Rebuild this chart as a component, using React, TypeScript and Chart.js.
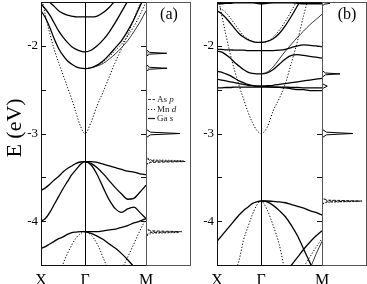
import React, { useEffect, useRef } from 'react';
import { Chart, registerables } from 'chart.js';
Chart.register(...registerables);

const SERIF = "'Liberation Serif', 'Times New Roman', serif";
const N = null;

// k-path positions: X = 0, Γ = 1, M = 2.386
const K = [0, 0.1, 0.2, 0.3, 0.4, 0.5, 0.6, 0.7, 0.8, 0.9, 1, 1.139, 1.277, 1.416, 1.554, 1.693, 1.832, 1.97, 2.109, 2.247, 2.386];
const K_TICKS = [0, 1, 2.386];
const K_LABELS = ['X', 'Γ', 'M'];
const E_TICKS = [-4.5, -4, -3.5, -3, -2.5, -2, -1.5];
const E_MIN = -4.5;
const E_MAX = -1.5;

// ---- panel (a) bands ----
const A_V = [-1.42, -1.65, -1.86, -2.04, -2.19, -2.33, -2.47, -2.61, -2.77, -2.92, -3.0, -2.87, -2.68, -2.52, -2.35, -2.18, -2.03, -1.87, -1.7, -1.52, -1.35];
const A_U1 = [-1.35, -1.42, -1.5, -1.55, -1.6, -1.63, -1.65, -1.66, -1.67, -1.67, -1.67, -1.67, -1.66, -1.62, -1.56, -1.48, -1.4, -1.3, -1.2, -1.1, -1.0];
const A_U2 = [-1.52, -1.58, -1.65, -1.74, -1.83, -1.9, -1.96, -2.01, -2.04, -2.06, -2.07, -2.05, -2.0, -1.93, -1.84, -1.73, -1.61, -1.49, -1.37, -1.25, -1.13];
const A_U3A = [-1.6, -1.68, -1.79, -1.92, -2.03, -2.11, -2.17, -2.21, -2.24, -2.255, -2.26, -2.25, -2.22, -2.17, -2.1, -2.02, -1.94, -1.83, -1.7, -1.55, -1.4];
const A_U3B = [N, N, N, N, N, N, N, N, N, N, -2.26, -2.25, -2.22, -2.18, -2.12, -2.05, -1.98, -1.89, -1.78, -1.65, -1.5];
const A_U3C = [N, N, N, N, N, N, N, N, N, N, -2.26, -2.25, -2.23, -2.2, -2.15, -2.09, -2.02, -1.94, -1.84, -1.73, -1.6];
const A_P1 = [-3.65, -3.62, -3.58, -3.53, -3.49, -3.44, -3.4, -3.37, -3.34, -3.325, -3.32, -3.32, -3.33, -3.35, -3.37, -3.39, -3.41, -3.43, -3.44, -3.46, -3.47];
const A_P2 = [-4.0, -3.97, -3.9, -3.81, -3.72, -3.63, -3.55, -3.47, -3.41, -3.35, -3.32, -3.36, -3.47, -3.62, -3.76, -3.86, -3.9, -3.86, -3.84, -3.9, -3.97];
const A_P3 = [N, N, N, N, N, N, N, N, N, N, -3.32, -3.34, -3.39, -3.46, -3.54, -3.62, -3.69, -3.75, -3.74, -3.67, -3.59];
const A_S1 = [-4.31, -4.29, -4.26, -4.23, -4.2, -4.18, -4.15, -4.13, -4.125, -4.12, -4.12, -4.12, -4.12, -4.11, -4.1, -4.09, -4.07, -4.05, -4.02, -4.0, -3.97];
const A_S2 = [N, N, N, N, N, N, N, N, N, N, -4.12, -4.14, -4.17, -4.21, -4.26, -4.31, -4.37, -4.44, -4.52, -4.6, -4.68];
const A_S3 = [N, N, N, -4.85, -4.65, -4.49, -4.37, -4.27, -4.19, -4.14, -4.12, -4.16, -4.26, -4.42, -4.6, -4.8, N, N, N, N, N];
const A_S4 = [N, N, N, N, N, N, N, N, N, N, N, N, N, N, N, -4.69, -4.55, -4.41, -4.26, -4.11, -3.97];

// ---- panel (b) bands ----
const B_V = [-1.38, -1.63, -1.87, -2.09, -2.28, -2.45, -2.6, -2.75, -2.87, -2.96, -3.0, -2.93, -2.74, -2.6, -2.43, -2.19, -1.94, -1.65, -1.4, -1.15, -0.9];
const B_TOP = [-1.52, -1.52, -1.515, -1.515, -1.51, -1.51, -1.51, -1.51, -1.51, -1.515, -1.52, -1.515, -1.51, -1.51, -1.51, -1.51, -1.515, -1.52, -1.52, -1.52, -1.52];
const B_U1 = [-1.6, -1.63, -1.68, -1.74, -1.8, -1.86, -1.9, -1.93, -1.95, -1.96, -1.96, -1.95, -1.92, -1.86, -1.77, -1.66, -1.54, -1.42, -1.3, -1.18, -1.06];
const B_U1B = [-1.56, -1.58, -1.62, -1.68, -1.75, -1.82, -1.88, -1.92, -1.95, -1.96, -1.96, -1.95, -1.9, -1.82, -1.72, -1.6, -1.47, -1.34, -1.21, -1.08, -0.95];
const B_FLAT = [-2.04, -2.04, -2.045, -2.045, -2.05, -2.05, -2.05, -2.055, -2.055, -2.055, -2.055, -2.055, -2.055, -2.05, -2.04, -2.02, -2.0, -1.99, -1.995, -2.0, -2.01];
const B_U2 = [-2.06, -2.07, -2.1, -2.14, -2.19, -2.23, -2.27, -2.3, -2.315, -2.32, -2.32, -2.31, -2.27, -2.21, -2.15, -2.11, -2.1, -2.11, -2.12, -2.13, -2.14];
const B_FAN = [N, N, N, N, N, N, N, N, N, N, -2.32, -2.3, -2.24, -2.15, -2.06, -1.98, -1.9, -1.83, -1.76, -1.7, -1.64];
const B_F1 = [-2.29, -2.3, -2.32, -2.34, -2.37, -2.4, -2.42, -2.44, -2.45, -2.46, -2.46, -2.455, -2.45, -2.44, -2.43, -2.42, -2.41, -2.4, -2.39, -2.38, -2.37];
const B_F2 = [-2.38, -2.39, -2.4, -2.41, -2.42, -2.43, -2.44, -2.45, -2.455, -2.46, -2.46, -2.465, -2.47, -2.475, -2.48, -2.49, -2.5, -2.5, -2.51, -2.51, -2.51];
const B_F3 = [-2.48, -2.48, -2.475, -2.475, -2.47, -2.47, -2.47, -2.47, -2.47, -2.47, -2.47, -2.47, -2.47, -2.47, -2.47, -2.475, -2.475, -2.48, -2.48, -2.48, -2.48];
const B_G1 = [-4.23, -4.17, -4.11, -4.05, -3.99, -3.93, -3.88, -3.84, -3.8, -3.78, -3.77, -3.77, -3.775, -3.78, -3.79, -3.81, -3.83, -3.85, -3.88, -3.9, -3.93];
const B_G2 = [N, N, N, N, N, N, N, N, N, N, -3.77, -3.78, -3.82, -3.88, -3.95, -4.05, -4.17, -4.32, -4.47, -4.63, -4.8];
const B_G3 = [N, N, N, -4.8, -4.6, -4.45, -4.22, -4.07, -3.93, -3.82, -3.77, -3.87, -4.05, -4.27, -4.6, -4.9, N, N, N, N, N];
const B_H1 = [N, N, N, N, N, N, N, N, N, N, N, N, N, N, -4.59, -4.5, -4.41, -4.32, -4.24, -4.17, -4.11];
const B_H2 = [N, N, N, N, N, N, N, N, N, N, N, N, N, N, N, N, -4.63, -4.52, -4.41, -4.3, -4.2];
const B_H3 = [N, N, N, N, N, N, N, N, N, N, N, N, N, N, N, N, N, -4.72, -4.55, -4.38, -4.23];

// ---- DOS (energy, weight) ----
const DOSA_GA_E = [-1.5, -2.04, -2.075, -2.085, -2.095, -2.12, -2.21, -2.245, -2.256, -2.267, -2.29, -2.95, -2.985, -3.0, -3.015, -3.05, -4.5];
const DOSA_GA_V = [0, 0, 0.08, 0.47, 0.08, 0, 0, 0.08, 0.48, 0.08, 0, 0, 0.1, 0.77, 0.1, 0, 0];
const DOSA_AS_E = [-1.5, -3.28, -3.31, -3.32, -3.33, -3.36, -4.08, -4.11, -4.12, -4.13, -4.16, -4.5];
const DOSA_AS_V = [0, 0, 0.1, 0.89, 0.1, 0, 0, 0.1, 0.81, 0.1, 0, 0];
const DOSA_MN_E = [-1.5, -2.06, -2.085, -2.11, -2.23, -2.256, -2.28, -3.27, -3.3, -3.31, -3.32, -3.35, -4.09, -4.12, -4.13, -4.14, -4.17, -4.5];
const DOSA_MN_V = [0, 0, 0.06, 0, 0, 0.06, 0, 0, 0.12, 0.85, 0.12, 0, 0, 0.12, 0.75, 0.12, 0, 0];

const DOSB_GA_E = [-1.5, -1.515, -1.525, -1.55, -2.28, -2.31, -2.32, -2.33, -2.36, -2.43, -2.46, -2.49, -2.95, -2.985, -3.0, -3.015, -3.05, -4.5];
const DOSB_GA_V = [0.1, 0.18, 0.05, 0, 0, 0.08, 0.41, 0.08, 0, 0, 0.12, 0, 0, 0.1, 0.7, 0.1, 0, 0];
const DOSB_AS_E = [-1.5, -3.73, -3.76, -3.77, -3.78, -3.81, -4.5];
const DOSB_AS_V = [0, 0, 0.1, 0.91, 0.1, 0, 0];
const DOSB_MN_E = [-1.5, -3.74, -3.765, -3.775, -3.785, -3.8, -4.5];
const DOSB_MN_V = [0, 0, 0.12, 0.85, 0.12, 0, 0];

const LEGEND = [
  { name: 'As ', orb: 'p', style: 'dashed' },
  { name: 'Mn ', orb: 'd', style: 'dotted' },
  { name: 'Ga ', orb: 's', style: 'solid' },
];

type St = 'solid' | 'dotted' | 'thin' | 'dashed';

const BANDS_A: [any[], St][] = [
  [A_V, 'dotted'], [A_U1, 'solid'], [A_U2, 'solid'], [A_U3A, 'solid'], [A_U3B, 'dotted'], [A_U3C, 'thin'],
  [A_P1, 'solid'], [A_P2, 'solid'], [A_P3, 'solid'], [A_S1, 'solid'], [A_S2, 'solid'], [A_S3, 'dotted'], [A_S4, 'dotted'],
];
const BANDS_B: [any[], St][] = [
  [B_V, 'dotted'], [B_TOP, 'solid'], [B_U1, 'solid'], [B_U1B, 'dotted'], [B_FLAT, 'solid'], [B_U2, 'solid'], [B_FAN, 'thin'],
  [B_F1, 'solid'], [B_F2, 'solid'], [B_F3, 'solid'], [B_G1, 'solid'], [B_G2, 'solid'], [B_G3, 'dotted'],
  [B_H1, 'solid'], [B_H2, 'dotted'], [B_H3, 'thin'],
];

function lineStyle(s: St) {
  if (s === 'dotted') return { borderWidth: 1, borderDash: [1.2, 1.8] };
  if (s === 'dashed') return { borderWidth: 0.9, borderDash: [3, 1.5] };
  if (s === 'thin') return { borderWidth: 0.8, borderDash: [] };
  return { borderWidth: 1.3, borderDash: [] };
}

const bandFrame = {
  id: 'bandFrame',
  beforeDatasetsDraw(chart: any) {
    const { ctx, chartArea: a, scales } = chart;
    const gx = Math.round(scales.x.getPixelForValue(1)) + 0.5;
    ctx.save();
    ctx.strokeStyle = '#000';
    ctx.lineWidth = 1;
    ctx.beginPath();
    ctx.moveTo(gx, a.top);
    ctx.lineTo(gx, a.bottom);
    ctx.stroke();
    ctx.restore();
  },
  afterDatasetsDraw(chart: any) {
    const { ctx, chartArea: a, scales } = chart;
    ctx.save();
    ctx.strokeStyle = '#111';
    ctx.lineWidth = 1;
    ctx.strokeRect(a.left + 0.5, a.top + 0.5, a.right - a.left, a.bottom - a.top);
    ctx.beginPath();
    E_TICKS.forEach((e) => {
      if (e === E_MIN || e === E_MAX) return;
      const y = Math.round(scales.y.getPixelForValue(e)) + 0.5;
      ctx.moveTo(a.left, y);
      ctx.lineTo(a.left + 5, y);
      ctx.moveTo(a.right, y);
      ctx.lineTo(a.right - 5, y);
    });
    ctx.stroke();
    ctx.restore();
  },
};

const yTitle = {
  id: 'yTitle',
  afterDraw(chart: any) {
    const { ctx } = chart;
    ctx.save();
    ctx.translate(15, 128);
    ctx.rotate(-Math.PI / 2);
    ctx.fillStyle = '#000';
    ctx.font = `22px ${SERIF}`;
    ctx.textAlign = 'center';
    ctx.textBaseline = 'middle';
    ctx.fillText('E (eV)', 0, 0);
    ctx.restore();
  },
};

function bandConfig(bands: [any[], St][], withTitle: boolean): any {
  return {
    type: 'line',
    data: {
      datasets: bands.map(([v, s]) => ({
        data: K.map((k, i) => ({ x: k, y: v[i] })),
        borderColor: '#000',
        ...lineStyle(s),
        pointRadius: 0,
        cubicInterpolationMode: 'monotone',
        spanGaps: false,
        fill: false,
      })),
    },
    options: {
      animation: false,
      responsive: false,
      devicePixelRatio: 1,
      events: [],
      layout: { padding: { left: 0, right: 16, top: 2, bottom: 0 } },
      plugins: { legend: { display: false }, tooltip: { enabled: false } },
      scales: {
        x: {
          type: 'linear', min: 0, max: 2.386,
          grid: { display: false, drawTicks: false }, border: { display: false },
          afterBuildTicks: (s: any) => { s.ticks = K_TICKS.map((v) => ({ value: v })); },
          ticks: {
            autoSkip: false, maxRotation: 0, padding: 6, color: '#000',
            font: { family: SERIF, size: 16 },
            callback: (_v: any, i: number) => K_LABELS[i],
          },
          afterFit: (s: any) => { s.height = 19; s.paddingLeft = 0; s.paddingRight = 0; },
        },
        y: {
          type: 'linear', min: E_MIN, max: E_MAX,
          grid: { display: false, drawTicks: false }, border: { display: false },
          afterBuildTicks: (s: any) => { s.ticks = E_TICKS.map((v) => ({ value: v })); },
          ticks: {
            padding: 3, color: '#000',
            font: { family: SERIF, size: 13 },
            callback: (v: number) => (Number.isInteger(v) ? String(v) : ''),
          },
          afterFit: (s: any) => { s.width = 41; s.paddingTop = 0; s.paddingBottom = 0; },
        },
      },
    },
    plugins: withTitle ? [bandFrame, yTitle] : [bandFrame],
  };
}

function dosPlugin(label: string, labelX: number, withLegend: boolean) {
  return {
    id: 'dosDeco',
    afterDatasetsDraw(chart: any) {
      const { ctx, chartArea: a } = chart;
      ctx.save();
      ctx.strokeStyle = '#555';
      ctx.lineWidth = 1;
      ctx.setLineDash([]);
      ctx.strokeRect(a.left + 0.5, a.top + 0.5, a.right - a.left, a.bottom - a.top);
      ctx.fillStyle = '#000';
      ctx.font = `16px ${SERIF}`;
      ctx.textAlign = 'center';
      ctx.textBaseline = 'middle';
      ctx.fillText(label, a.left + labelX, 15);
      if (withLegend) {
        const rows = [99, 109, 118];
        LEGEND.forEach((item, i) => {
          const y = rows[i] + 0.5;
          const st = lineStyle(item.style as St);
          ctx.strokeStyle = '#222';
          ctx.lineWidth = st.borderWidth;
          ctx.setLineDash(st.borderDash);
          ctx.beginPath();
          ctx.moveTo(a.left + 2, y);
          ctx.lineTo(a.left + 9, y);
          ctx.stroke();
          ctx.setLineDash([]);
          ctx.fillStyle = '#222';
          ctx.textAlign = 'left';
          ctx.font = `9px ${SERIF}`;
          ctx.fillText(item.name, a.left + 11, y);
          const w = ctx.measureText(item.name).width;
          ctx.font = `italic 9px ${SERIF}`;
          ctx.fillText(item.orb, a.left + 11 + w, y);
        });
      }
      ctx.restore();
    },
  };
}

function dosConfig(curves: [number[], number[], St][], rightPad: number, plugin: any): any {
  return {
    type: 'scatter',
    data: {
      datasets: curves.map(([e, v, s]) => ({
        data: e.map((E, i) => ({ x: v[i], y: E })),
        showLine: true,
        borderColor: '#000',
        ...lineStyle(s),
        borderWidth: s === 'solid' ? 1 : 0.9,
        pointRadius: 0,
        tension: 0,
        fill: false,
      })),
    },
    options: {
      animation: false,
      responsive: false,
      devicePixelRatio: 1,
      events: [],
      layout: { padding: { left: 0, right: rightPad, top: 2, bottom: 19 } },
      plugins: { legend: { display: false }, tooltip: { enabled: false } },
      scales: {
        x: { type: 'linear', min: 0, max: 1, display: false },
        y: { type: 'linear', min: E_MIN, max: E_MAX, display: false },
      },
    },
    plugins: [plugin],
  };
}

export default function App() {
  const ra = useRef<HTMLCanvasElement>(null);
  const rda = useRef<HTMLCanvasElement>(null);
  const rb = useRef<HTMLCanvasElement>(null);
  const rdb = useRef<HTMLCanvasElement>(null);

  useEffect(() => {
    const charts = [
      new Chart(ra.current as HTMLCanvasElement, bandConfig(BANDS_A, true)),
      new Chart(rb.current as HTMLCanvasElement, bandConfig(BANDS_B, false)),
      new Chart(rda.current as HTMLCanvasElement, dosConfig([
        [DOSA_MN_E, DOSA_MN_V, 'dotted'],
        [DOSA_AS_E, DOSA_AS_V, 'dashed'],
        [DOSA_GA_E, DOSA_GA_V, 'solid'],
      ], 2, dosPlugin('(a)', 23, true))),
      new Chart(rdb.current as HTMLCanvasElement, dosConfig([
        [DOSB_MN_E, DOSB_MN_V, 'dotted'],
        [DOSB_AS_E, DOSB_AS_V, 'dashed'],
        [DOSB_GA_E, DOSB_GA_V, 'solid'],
      ], 1, dosPlugin('(b)', 25, false))),
    ];
    return () => charts.forEach((c) => c.destroy());
  }, []);

  const abs = (left: number): React.CSSProperties => ({ position: 'absolute', left, top: 0 });
  return (
    <div style={{ position: 'fixed', left: 0, top: 0, width: 367, height: 284, background: '#fff', overflow: 'hidden' }}>
      <canvas ref={ra} width={162} height={284} style={abs(0)} />
      <canvas ref={rb} width={162} height={284} style={abs(176)} />
      <canvas ref={rda} width={46} height={284} style={abs(146)} />
      <canvas ref={rdb} width={45} height={284} style={abs(322)} />
    </div>
  );
}
